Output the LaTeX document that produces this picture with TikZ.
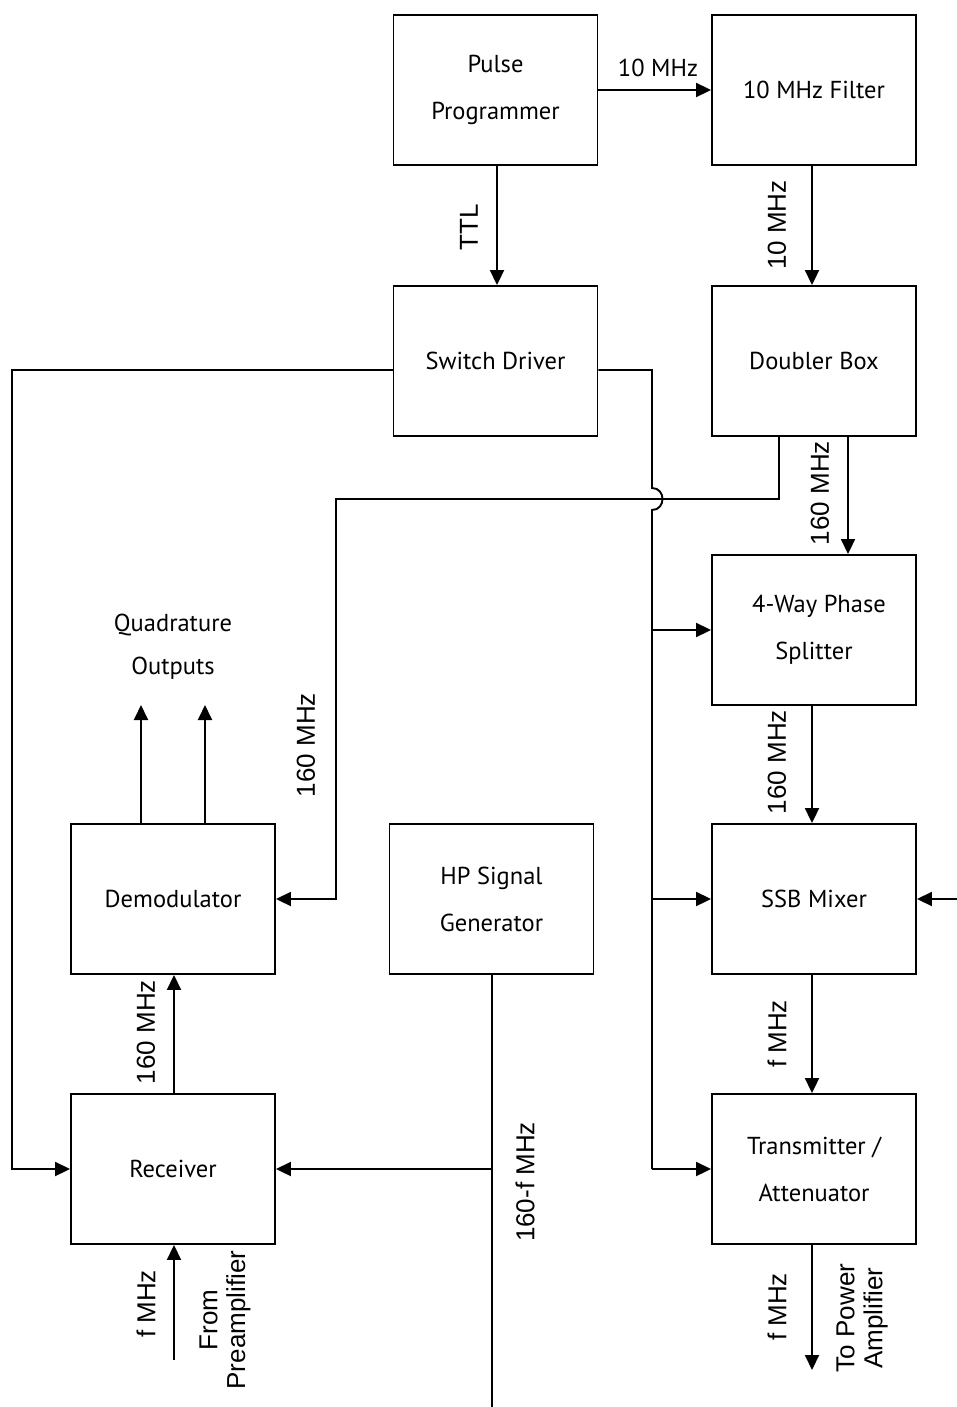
\documentclass[tikz,border=0pt]{standalone}
\usepackage{fontspec}
\usetikzlibrary{arrows.meta}
\newfontfamily\boxfont{PT Sans}
\newfontfamily\labfont{Liberation Sans}
\begin{document}
\begin{tikzpicture}[x=1pt,y=-1pt,
  line width=1.9pt,
  blk/.style={draw, line width=1.9pt, minimum width=204pt, minimum height=150pt, inner sep=0pt, align=center,
    font=\boxfont\fontsize{24.5}{47}\selectfont},
  arr/.style={-{Triangle[length=15pt,width=14pt]}},
  lab/.style={rotate=90, align=center, inner sep=0pt, font=\labfont\fontsize{26}{28}\selectfont},
  btxt/.style={align=center, inner sep=0pt, font=\boxfont\fontsize{24.5}{43}\selectfont}]
\useasboundingbox (0,0) rectangle (957,1407);
% blocks
\node[blk] (pp) at (495.5,90) {Pulse\\Programmer};
\node[blk] (filt) at (814,90) {10 MHz Filter};
\node[blk] (sw) at (495.5,361) {Switch Driver};
\node[blk] (dbl) at (814,361) {Doubler Box};
\node[blk] (spl) at (814,630) {\hspace*{10pt}4-Way Phase\\Splitter};
\node[blk] (ssb) at (814,899) {SSB Mixer};
\node[blk] (tx) at (814,1169) {Transmitter /\\Attenuator};
\node[blk] (dem) at (173,899) {Demodulator};
\node[blk] (hp) at (491.5,899) {HP Signal\\Generator};
\node[blk] (rx) at (173,1169) {Receiver};
% free coordinates
\coordinate (b1) at (779,499);
\coordinate (b2) at (336,499);
\coordinate (swr) at (652,370);
\coordinate (hopA) at (652,488);
\coordinate (hopB) at (652,510);
\coordinate (swl) at (12,370);
\coordinate (hpend) at (492,1407);
\coordinate (ext) at (957,899);
\coordinate (q1) at (141,705);
\coordinate (q2) at (205,705);
\coordinate (pre) at (174,1360);
\coordinate (pa) at (812,1370);
% connectors
\draw[arr] (pp.east) -- (filt.west);
\draw[arr] (497,0 |- pp.south) -- (497,0 |- sw.north);
\draw[arr] (812,0 |- filt.south) -- (812,0 |- dbl.north);
\draw[arr] (848,0 |- dbl.south) -- (848,0 |- spl.north);
\draw[arr] (812,0 |- spl.south) -- (812,0 |- ssb.north);
\draw[arr] (812,0 |- ssb.south) -- (812,0 |- tx.north);
\draw[arr] (812,0 |- tx.south) -- (pa);
\draw[arr] (779,0 |- dbl.south) -- (b1) -- (b2) -- (b2 |- dem.east) -- (dem.east);
\draw (sw.east |- swr) -- (swr) -- (hopA) .. controls (666,488) and (666,510) .. (hopB) -- (652,0 |- tx.west);
\draw[arr] (652,0 |- spl.west) -- (spl.west);
\draw[arr] (652,0 |- ssb.west) -- (ssb.west);
\draw[arr] (652,0 |- tx.west) -- (tx.west);
\draw[arr] (sw.west |- swl) -- (swl) -- (swl |- rx.west) -- (rx.west);
\draw (492,0 |- hp.south) -- (hpend);
\draw[arr] (492,0 |- rx.east) -- (rx.east);
\draw[arr] (ext) -- (ssb.east);
\draw[arr] (141,0 |- dem.north) -- (q1);
\draw[arr] (205,0 |- dem.north) -- (q2);
\draw[arr] (174,0 |- rx.north) -- (174,0 |- dem.south);
\draw[arr] (pre) -- (174,0 |- rx.south);
% labels
\node[btxt] (l1) at (658,68) {10 MHz};
\node[btxt] (qo) at (173,647) {Quadrature\\Outputs};
\node[lab] (l2) at (469,227) {TTL};
\node[lab] (l3) at (777,225) {10 MHz};
\node[lab] (l4) at (820,493) {160 MHz};
\node[lab] (l5) at (777,762) {160 MHz};
\node[lab] (l6) at (777,1034) {f MHz};
\node[lab] (l7) at (306,745) {160 MHz};
\node[lab] (l8) at (146,1032) {160 MHz};
\node[lab] (l9) at (525,1182) {160-f MHz};
\node[lab] (l10) at (146,1304) {f MHz};
\node[lab] (l11) at (225,1320) {From\\Preamplifier};
\node[lab] (l12) at (777,1307) {f MHz};
\node[lab] (l13) at (862,1318) {To Power\\Amplifier};
\end{tikzpicture}
\end{document}
